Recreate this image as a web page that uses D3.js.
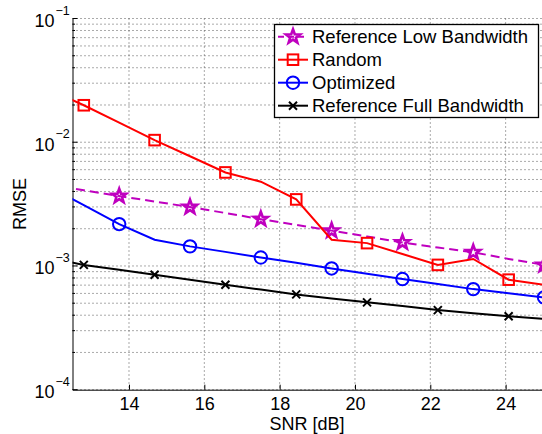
<!DOCTYPE html>
<html><head><meta charset="utf-8">
<script src="https://cdn.jsdelivr.net/npm/d3@7"></script>
<style>body{margin:0;background:#fff}svg{display:block;font-family:"Liberation Sans",Arial,sans-serif}</style>
</head><body><svg id="c" width="542" height="434"></svg>
<script>
const snr = [11.86, 12.8, 13.74, 14.68, 15.62, 16.56, 17.5, 18.44, 19.38, 20.32, 21.26, 22.2, 23.14, 24.08, 25.02];
const refLow = [0.00456, 0.00409, 0.00367, 0.00332, 0.00299, 0.00268, 0.00239, 0.00215, 0.00193, 0.00173, 0.00155, 0.00141, 0.00129, 0.00114, 0.00102];
const randomV = [0.027, 0.0199, 0.0144, 0.0104, 0.0077, 0.0057, 0.0048, 0.00345, 0.00163, 0.00153, 0.00125, 0.00102, 0.00114, 0.000775, 0.000705];
const optimized = [0.0044, 0.0031, 0.00218, 0.00163, 0.00144, 0.0013, 0.00117, 0.00106, 0.000955, 0.000865, 0.000784, 0.000714, 0.00065, 0.000601, 0.000557];
const refFull = [0.00117, 0.00102, 0.000931, 0.000849, 0.000773, 0.000705, 0.000644, 0.000589, 0.000547, 0.000508, 0.000474, 0.00044, 0.000415, 0.000392, 0.000373];
const seriesNames = ["Reference Low Bandwidth", "Random", "Optimized", "Reference Full Bandwidth"];
const xTicks = [14, 16, 18, 20, 22, 24];
const yExps = [-1, -2, -3, -4];

const L = 72.5, R = 543.3, T = 18.5, B = 389.7;
const x = d3.scaleLinear().domain([12.5, 25]).range([L, R]);
const y = d3.scaleLog().domain([1e-4, 1e-1]).range([B, T]);
const svg = d3.select("#c");

svg.append("defs").append("clipPath").attr("id", "clip")
  .append("rect").attr("x", L).attr("y", T).attr("width", R - L).attr("height", B - T);

// grid
const g = svg.append("g");
const minor = [];
for (let e = -4; e < -1 + 0.5; e++) for (let m = 1; m < 10; m++) { const v = m * Math.pow(10, e); if (v <= 0.1 + 1e-12) minor.push(v); }
g.selectAll(".hg").data(minor).join("line")
  .attr("x1", L).attr("x2", R).attr("y1", d => y(d)).attr("y2", d => y(d))
  .attr("stroke", "#555").attr("stroke-width", 1).attr("stroke-dasharray", "1,3");
g.selectAll(".vg").data(xTicks).join("line")
  .attr("x1", d => x(d)).attr("x2", d => x(d)).attr("y1", T).attr("y2", B)
  .attr("stroke", "#555").attr("stroke-width", 1).attr("stroke-dasharray", "1,3");

// axes
const xAxis = d3.axisBottom(x).tickValues(xTicks).tickSizeInner(-5).tickSizeOuter(0).tickPadding(8);
const xg = svg.append("g").attr("transform", `translate(0,${B})`).call(xAxis);
xg.select(".domain").attr("stroke", "#000");
xg.selectAll("text").attr("font-size", 18).attr("font-family", "Liberation Sans, Arial").attr("fill", "#000");

const yAxis = d3.axisLeft(y).tickValues(minor).tickSizeOuter(0)
  .tickSize(0).tickFormat("");
const yg = svg.append("g").attr("transform", `translate(${L},0)`).call(yAxis);
yg.select(".domain").attr("stroke", "#000");
yg.selectAll(".tick line").remove();
svg.append("g").selectAll("line").data(minor).join("line")
  .attr("x1", L).attr("x2", d => L + (Math.abs(Math.log10(d) - Math.round(Math.log10(d))) < 1e-9 ? 5 : 2.5))
  .attr("y1", d => y(d)).attr("y2", d => y(d)).attr("stroke", "#000");

const yl = svg.append("g").attr("font-size", 18).attr("fill", "#000");
yExps.forEach(e => {
  const yy = y(Math.pow(10, e));
  yl.append("text").attr("x", 54.5).attr("y", yy + 8.3).attr("text-anchor", "end").text("10");
  yl.append("text").attr("x", 55.5).attr("y", yy - 4).attr("font-size", 12.5).text("\u2212" + Math.abs(e));
});

svg.append("text").attr("x", (L + R) / 2 - 1).attr("y", 430).attr("text-anchor", "middle")
  .attr("font-size", 18).text("SNR [dB]");
svg.append("text").attr("transform", `translate(26,${(T + B) / 2}) rotate(-90)`).attr("text-anchor", "middle")
  .attr("font-size", 18).text("RMSE");

// series
const series = [
  { name: seriesNames[0], vals: refLow, color: "#bf00bf", dash: "9,5", marker: "star", off: 0 },
  { name: seriesNames[1], vals: randomV, color: "#ff0000", dash: null, marker: "square", off: 1 },
  { name: seriesNames[2], vals: optimized, color: "#0000ff", dash: null, marker: "circle", off: 0 },
  { name: seriesNames[3], vals: refFull, color: "#000000", dash: null, marker: "x", off: 1 }
];
const line = d3.line().x(d => x(d[0])).y(d => y(d[1]));
const starPath = (() => {
  const pts = [];
  for (let i = 0; i < 10; i++) {
    const r = i % 2 ? 3.0 : 7.4, a = -Math.PI / 2 + i * Math.PI / 5;
    pts.push([r * Math.cos(a), r * Math.sin(a)]);
  }
  return "M" + pts.map(p => p.join(",")).join("L") + "Z";
})();
function drawMarker(sel, type, color) {
  if (type === "star") sel.append("path").attr("d", starPath).attr("fill", "none").attr("stroke", color).attr("stroke-width", 2.6).attr("stroke-linejoin", "miter");
  else if (type === "square") sel.append("rect").attr("x", -5.3).attr("y", -5.3).attr("width", 10.6).attr("height", 10.6).attr("fill", "none").attr("stroke", color).attr("stroke-width", 2);
  else if (type === "circle") sel.append("circle").attr("r", 6.2).attr("fill", "none").attr("stroke", color).attr("stroke-width", 2);
  else { sel.append("path").attr("d", "M-4,-4L4,4M-4,4L4,-4").attr("stroke", color).attr("stroke-width", 2); }
}
const plot = svg.append("g");
series.forEach(s => {
  const pts = snr.map((v, i) => [v, s.vals[i]]);
  plot.append("path").datum(pts).attr("d", line).attr("clip-path", "url(#clip)")
    .attr("fill", "none").attr("stroke", s.color).attr("stroke-width", 2)
    .attr("stroke-dasharray", s.dash);
  pts.forEach((p, i) => {
    if (i === 0 || (i % 2) !== (s.off === 1 ? 1 : 0)) return;
    const m = plot.append("g").attr("transform", `translate(${x(p[0])},${y(p[1])})`);
    drawMarker(m, s.marker, s.color);
  });
});

// legend
const lg = svg.append("g");
lg.append("rect").attr("x", 274.5).attr("y", 24.5).attr("width", 264).attr("height", 93)
  .attr("fill", "#fff").attr("stroke", "#000").attr("stroke-width", 1.3);
const rowY = [36.7, 59.7, 82.7, 105.7];
series.forEach((s, i) => {
  const yy = rowY[i];
  lg.append("line").attr("x1", 278).attr("x2", 308).attr("y1", yy).attr("y2", yy)
    .attr("stroke", s.color).attr("stroke-width", 2).attr("stroke-dasharray", s.dash ? "6,4" : null);
  const m = lg.append("g").attr("transform", `translate(293,${yy})`);
  drawMarker(m, s.marker, s.color);
  lg.append("text").attr("x", 312).attr("y", yy + 6.5).attr("font-size", 18.5).attr("fill", "#000").text(s.name);
});
</script></body></html>
